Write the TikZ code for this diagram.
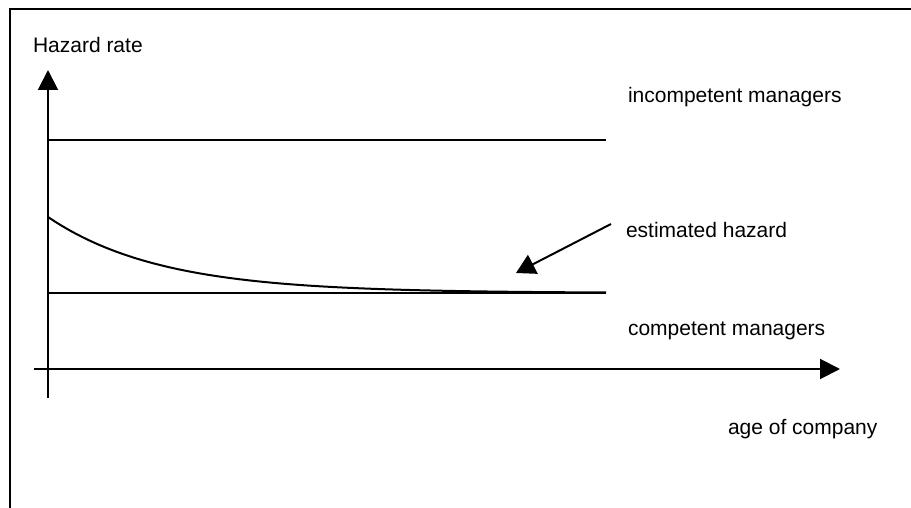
\documentclass[tikz,border=0pt]{standalone}
\usepackage{fontspec}
\setmainfont{Liberation Sans}
\usepackage{tikz}
\usetikzlibrary{arrows.meta}
\usetikzlibrary{positioning}
\tikzset{
    axis/.style={draw=black, -{Triangle[length=10pt,width=10pt]}},
    level/.style={draw=black},
    hazard/.style={draw=black, smooth},
    pointer/.style={draw=black, -{Triangle[length=9.5pt,width=10.5pt]}},
    lbl/.style={anchor=base west, inner sep=0pt, font=\fontsize{10.5pt}{12pt}\selectfont},
}

\begin{document}
\begin{tikzpicture}[x=0.5pt, y=-0.5pt, line width=1pt]
	\useasboundingbox (0,0) rectangle (911,508);
	% frame
	\draw (10,508)--(10,9)--(911,9);
	% axes
	\coordinate (ybot) at (48,398);
	\coordinate (ytop) at (48,70);
	\coordinate (xleft) at (34,369);
	\coordinate (xright) at (840,369);
	\draw[axis] (ybot)--(ytop);
	\draw[axis] (xleft)--(xright);
	% levels
	\coordinate (inc0) at (48,140);
	\coordinate (inc1) at (606,140);
	\coordinate (com0) at (48,293);
	\coordinate (com1) at (606,293);
	\draw[level] (inc0)--(inc1);
	\draw[level] (com0)--(com1);
	\draw[hazard] plot[domain=48:606, samples=60] (\x, {293-76*exp(-0.00892*(\x-48))});
	% labels
	\node[lbl] (rate) at (32,53) {Hazard rate};
	\node[lbl] (incomp) at (627,103) {incompetent managers};
	\node[lbl] (est) at (625,237) {estimated hazard};
	\node[lbl] (comp) at (627,335) {competent managers};
	\node[lbl] (age) at (727,434) {age of company};
	\coordinate (from) at (611,224);
	\coordinate (to) at (516,273);
	\draw[pointer] (from)--(to);
\end{tikzpicture}
\end{document}
